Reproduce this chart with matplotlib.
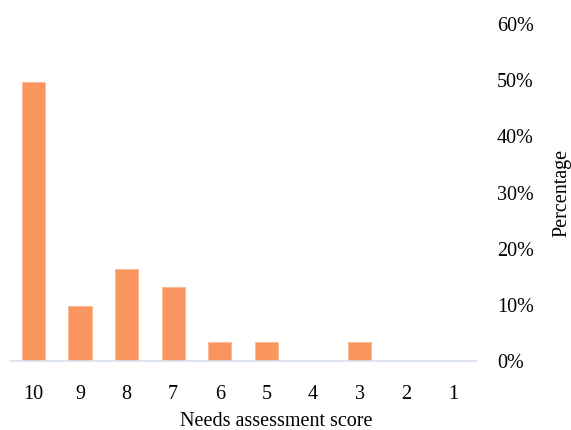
import matplotlib.pyplot as plt
import numpy as np

plt.rcParams['font.family'] = ['Liberation Serif', 'DejaVu Serif']

scores = ['10', '9', '8', '7', '6', '5', '4', '3', '2', '1']
percent = [49.6, 9.8, 16.4, 13.1, 3.3, 3.3, 0, 3.3, 0, 0]
yticks = [0, 10, 20, 30, 40, 50, 60]

fig = plt.figure(figsize=(5.71, 4.30), dpi=100)
ax = fig.add_axes([0.0175, 0.1605, 0.8165, 0.7835])

x = np.arange(len(scores))
ax.bar(x, percent, width=0.5, color='#F9965F', edgecolor='#FBB890', linewidth=0.6)

ax.set_xlim(-0.5, len(scores) - 0.5)
ax.set_ylim(0, 60)
ax.set_xticks(x, labels=scores)
ax.set_yticks(yticks, labels=[f'{v}%' for v in yticks])

ax.yaxis.tick_right()
ax.yaxis.set_label_position('right')
for s in ['top', 'left', 'right']:
    ax.spines[s].set_visible(False)
ax.spines['bottom'].set_color('#D6E0EF')
ax.spines['bottom'].set_linewidth(1.2)

ax.tick_params(axis='both', length=0, labelsize=14.5, colors='black')
ax.tick_params(axis='y', pad=15)
ax.tick_params(axis='x', pad=17)
for lbl in ax.get_yticklabels():
    lbl.set_horizontalalignment('left')

ax.set_ylabel('Percentage', fontsize=14.5, labelpad=13)
ax.set_xlabel('Needs assessment score', fontsize=14.5)
ax.xaxis.set_label_coords(0.572, -0.15)

fig.savefig('out.png', dpi=100)
